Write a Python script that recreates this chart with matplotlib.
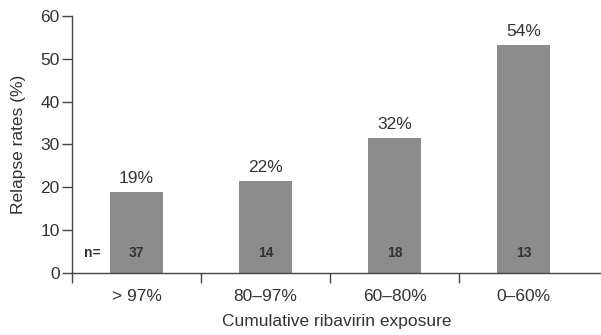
import numpy as np
import matplotlib
matplotlib.use('Agg')
import matplotlib.pyplot as plt

# data
categories = ['> 97%', '80\u201397%', '60\u201380%', '0\u201360%']
relapse = [18.9, 21.5, 31.5, 53.3]
pct_labels = ['19%', '22%', '32%', '54%']
n_vals = [37, 14, 18, 13]

plt.rcParams['font.family'] = ['Liberation Sans', 'DejaVu Sans']
txt = '#333333'

fig = plt.figure(figsize=(6.01, 3.35), dpi=100)
ax = fig.add_axes([0.12, 0.186, 0.88, 0.766])

x = np.arange(len(categories))
ax.bar(x, relapse, width=0.41, color='#8c8c8c', zorder=2)

for xi, v, lab, n in zip(x, relapse, pct_labels, n_vals):
    ax.text(xi, v + 1.3, lab, ha='center', va='bottom', fontsize=12.5, color=txt)
    ax.text(xi, 4.6, str(n), ha='center', va='center', fontsize=10,
            fontweight='bold', color=txt)
ax.text(-0.34, 4.6, 'n=', ha='center', va='center', fontsize=10,
        fontweight='bold', color=txt)

ax.set_xlim(-0.5, 3.6)
ax.set_ylim(0, 60)
ax.set_yticks(range(0, 61, 10))
ax.set_xticks(x)
ax.set_xticklabels(categories)
ax.set_xticks([-0.5, 0.5, 1.5, 2.5], minor=True)
ax.tick_params(axis='x', which='major', length=0, pad=12, labelsize=12.5, labelcolor=txt)
ax.tick_params(axis='x', which='minor', length=7, width=1, color='#444444')
ax.tick_params(axis='y', length=7, width=1, labelsize=12.5, labelcolor=txt,
               color='#444444', pad=2)

for s in ['top', 'right']:
    ax.spines[s].set_visible(False)
for s in ['left', 'bottom']:
    ax.spines[s].set_color('#444444')
    ax.spines[s].set_linewidth(1)

ax.set_ylabel('Relapse rates (%)', fontsize=12.5, color=txt, labelpad=10)
ax.set_xlabel('Cumulative ribavirin exposure', fontsize=12.5, color=txt, labelpad=7)

fig.savefig('out.png', dpi=100)
